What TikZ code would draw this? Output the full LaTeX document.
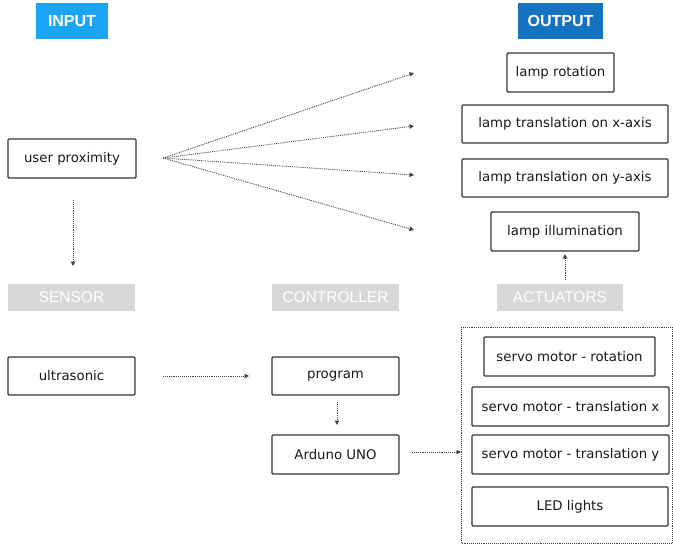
\documentclass[tikz,border=0pt]{standalone}
\usepackage{fontspec}
\setmainfont{DejaVu Sans}
\newfontfamily\labfont{Liberation Sans}
\usetikzlibrary{arrows.meta}
\definecolor{inblue}{HTML}{1BA4F2}
\definecolor{outblue}{HTML}{1673C2}
\definecolor{catgray}{HTML}{D8D8D8}
\definecolor{boxline}{HTML}{333333}
\definecolor{arrgray}{HTML}{444444}
\begin{document}
\begin{tikzpicture}[x=1pt,y=-1pt,
  box/.style={draw=boxline,line width=1.1pt,rounded corners=1pt,fill=white,
    font=\fontsize{13.3}{15}\selectfont,text=black!90,inner sep=0pt},
  headlab/.style={font=\labfont\bfseries\fontsize{16}{18}\selectfont,text=white,inner sep=0pt},
  catlab/.style={fill=catgray,font=\labfont\fontsize{15.5}{17}\selectfont,text=white,inner sep=0pt},
  conn/.style={draw=arrgray,line width=0.9pt,densely dotted,-{Triangle[width=4.5pt,length=4.5pt]}},
]
\useasboundingbox (0,0) rectangle (673,544);
% headers
\node[headlab,fill=inblue,minimum width=72pt,minimum height=36pt] (input) at (72,21) {INPUT};
\node[headlab,fill=outblue,minimum width=85pt,minimum height=36pt] (output) at (560.5,21) {OUTPUT};
% category labels
\node[catlab,minimum width=127pt,minimum height=27pt] (sensor) at (71.5,297.5) {SENSOR};
\node[catlab,minimum width=127pt,minimum height=27pt] (controller) at (335.5,297.5) {CONTROLLER};
\node[catlab,minimum width=126pt,minimum height=27pt] (actuators) at (560,297.5) {ACTUATORS};
% input
\node[box,minimum width=128pt,minimum height=39pt] (user) at (72,158.5) {user proximity};
% outputs
\node[box,minimum width=107pt,minimum height=39pt] (rot) at (560.5,72.5) {lamp rotation};
\node[box,minimum width=206pt,minimum height=38pt] (tx) at (565,124) {lamp translation on x-axis};
\node[box,minimum width=206pt,minimum height=38pt] (ty) at (565,178) {lamp translation on y-axis};
\node[box,minimum width=148pt,minimum height=39pt] (ill) at (565,231.5) {lamp illumination};
% sensor / controller
\node[box,minimum width=127pt,minimum height=38pt] (ultra) at (71.5,376) {ultrasonic};
\node[box,minimum width=127pt,minimum height=38pt] (prog) at (335.5,376) {program};
\node[box,minimum width=127pt,minimum height=39pt] (ard) at (335.5,454.5) {Arduno UNO};
% actuator container
\draw[draw=arrgray,line width=0.9pt,densely dotted] (461,327) rectangle (672,543);
\coordinate (cont) at (461,452);
\node[box,minimum width=171pt,minimum height=39pt] (srot) at (569.5,356.5) {servo motor - rotation};
\node[box,minimum width=197pt,minimum height=39pt] (stx) at (570.5,406.5) {servo motor - translation x};
\node[box,minimum width=197pt,minimum height=39pt] (sty) at (570.5,454.5) {servo motor - translation y};
\node[box,minimum width=196pt,minimum height=39pt] (led) at (570,506.5) {LED lights};
% connectors
\coordinate (fan) at (163,158);
\coordinate (e1) at (414,73);
\coordinate (e2) at (414,126);
\coordinate (e3) at (414,175);
\coordinate (e4) at (414,230);
\draw[conn] (fan) -- (e1);
\draw[conn] (fan) -- (e2);
\draw[conn] (fan) -- (e3);
\draw[conn] (fan) -- (e4);
\coordinate (ud1) at (73,200);
\coordinate (ud2) at (73,266);
\draw[conn] (ud1) -- (ud2);
\coordinate (us1) at (163,376);
\coordinate (us2) at (249,376);
\draw[conn] (us1) -- (us2);
\coordinate (pa1) at (337,402);
\coordinate (pa2) at (337,425);
\draw[conn] (pa1) -- (pa2);
\coordinate (ac1) at (412,452);
\draw[conn] (ac1) -- (cont);
\coordinate (il1) at (565,280);
\coordinate (il2) at (565,254);
\draw[conn] (il1) -- (il2);
\end{tikzpicture}
\end{document}
